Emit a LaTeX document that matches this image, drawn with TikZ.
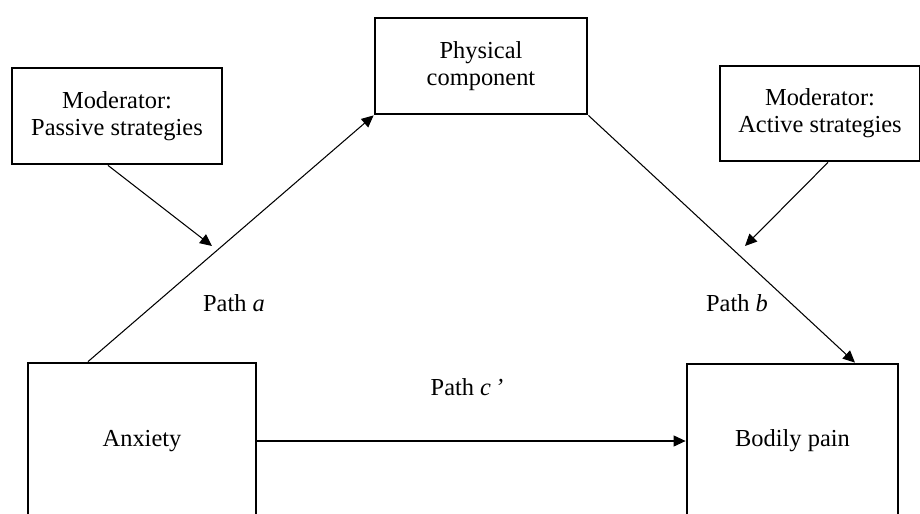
\documentclass[tikz,border=0pt]{standalone}
\usepackage{fontspec}
\setmainfont{Liberation Serif}
\usetikzlibrary{arrows.meta}

\begin{document}
\begin{tikzpicture}[
  x=0.02cm, y=-0.02cm,
  varbox/.style={rectangle, draw=black, line width=1.6pt, fill=white,
    align=center, inner sep=1mm,
    font=\fontsize{13.9}{15.2}\selectfont},
  modbox/.style={varbox, minimum height=1.92cm},
  arr/.style={-{Triangle[length=2.4mm, width=2.2mm]}, line width=0.6pt, black},
  pathlbl/.style={font=\fontsize{13.9}{15.2}\selectfont, inner sep=1pt},
]
\useasboundingbox (0,0) rectangle (920,514);
\clip (0,0) rectangle (920,514);

% Variables
\node[varbox, minimum width=4.24cm, minimum height=1.92cm] (phys) at (481,66) {Physical\\component};
\node[varbox, minimum width=4.56cm, minimum height=3.12cm] (anx) at (142,441) {Anxiety};
\node[varbox, minimum width=4.22cm, minimum height=3.08cm] (pain) at (792.5,441) {Bodily pain};

% Moderators
\node[modbox, minimum width=4.2cm] (passive) at (117,116) {Moderator:\\Passive strategies};
\node[modbox, minimum width=4.0cm, minimum height=1.9cm] (active) at (820,113.5) {Moderator:\\Active strategies};

% Points where the moderators act
\coordinate (moda) at (212,246);
\coordinate (modb) at (745,246);

% Paths
\draw[arr] ([xshift=-1.08cm]anx.north) -- (phys.south west);
\draw[arr] (phys.south east) -- ([xshift=1.25cm]pain.north);
\draw[arr] (anx.east) -- (pain.west);
\draw[arr] ([xshift=-0.18cm]passive.south) -- (moda);
\draw[arr] ([xshift=0.16cm]active.south) -- (modb);

% Path labels
\node[pathlbl] (la) at (234,303) {Path \textit{a}};
\node[pathlbl] (lb) at (737,303) {Path \textit{b}};
\node[pathlbl] (lc) at (467,387) {Path \textit{c\,’}};

\end{tikzpicture}
\end{document}
